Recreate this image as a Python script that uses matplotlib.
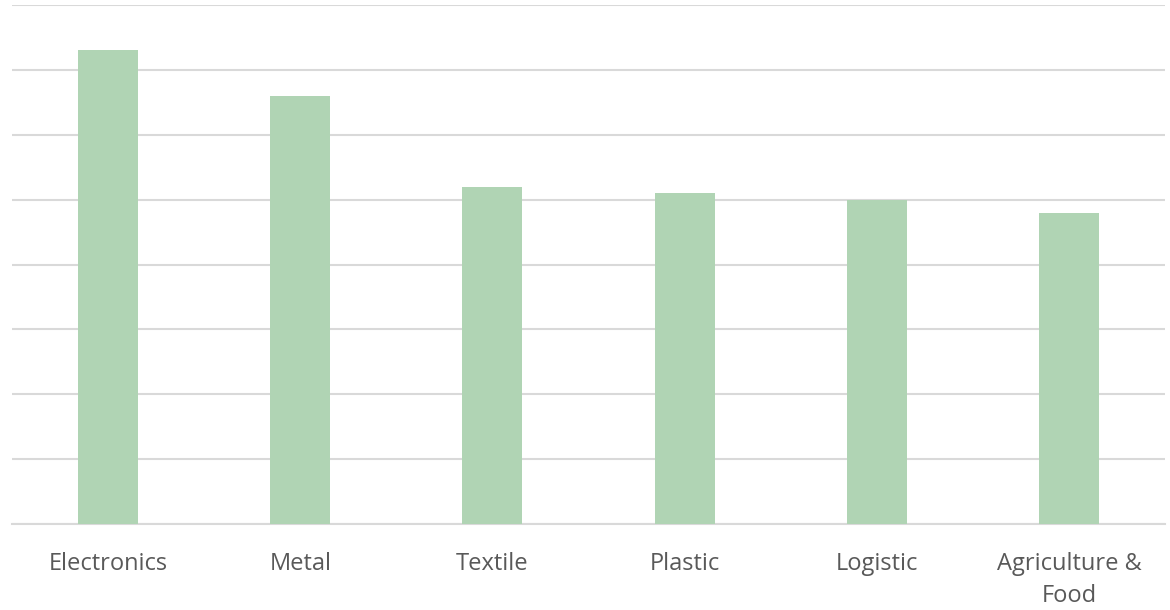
import matplotlib
matplotlib.use("Agg")
import matplotlib.pyplot as plt

categories = ["Electronics", "Metal", "Textile", "Plastic", "Logistic", "Agriculture &\nFood"]
values = [7.3, 6.59, 5.19, 5.1, 5.0, 4.79]

fig = plt.figure(figsize=(11.7, 6.1), dpi=100)
ax = fig.add_axes([12/1170, 86/610, 1153/1170, 519/610])
x = list(range(len(categories)))
ax.bar(x, values, width=0.3125, color="#b0d4b4", zorder=3)
ax.set_xlim(-0.5, len(categories) - 0.5)
ax.set_ylim(0, 8)
ax.set_yticks(range(0, 9))
ax.yaxis.grid(True, color="#d9d9d9", linewidth=1.5, zorder=0)
ax.tick_params(axis="y", left=False, labelleft=False)
ax.tick_params(axis="x", length=0, pad=20)
ax.set_xticks(x)
ax.set_xticklabels(categories, fontfamily="Open Sans", fontsize=17, color="#595959", linespacing=1.45, va="top")
for s in ["top", "left", "right"]:
    ax.spines[s].set_visible(False)
ax.spines["bottom"].set_color("#d9d9d9")
ax.spines["bottom"].set_linewidth(1.5)
fig.savefig("out.png", dpi=100)
